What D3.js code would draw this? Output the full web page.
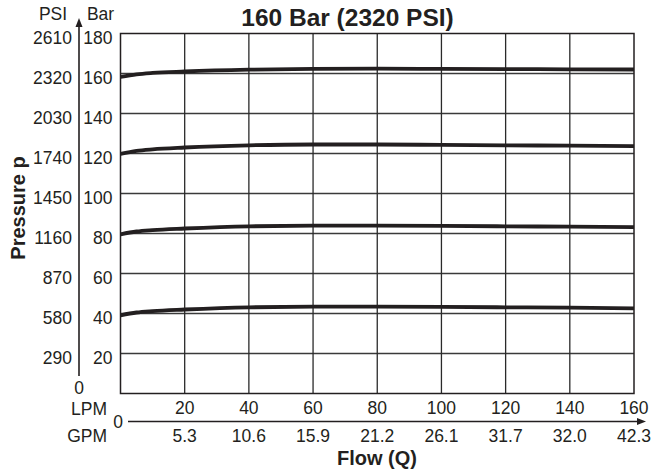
<!DOCTYPE html>
<html><head><meta charset="utf-8">
<script src="https://cdn.jsdelivr.net/npm/d3@7"></script>
<style>
html,body{margin:0;padding:0;background:#fff;}
svg{display:block;font-family:"Liberation Sans",Arial,Helvetica,sans-serif;}
</style></head>
<body><svg id="chart" width="654" height="472"></svg>
<script>
// ---- data ----
const flowLPM = [0, 5, 10, 20, 40, 60, 80, 100, 120, 140, 160];
const curve160 = [158.3, 159.6, 160.3, 161.0, 161.9, 162.3, 162.4, 162.3, 162.2, 162.1, 162.0];
const curve120 = [119.8, 121.3, 122.1, 123.0, 124.1, 124.5, 124.5, 124.3, 124.1, 123.9, 123.7];
const curve80  = [79.6, 81.0, 81.7, 82.5, 83.6, 83.9, 83.9, 83.8, 83.6, 83.4, 83.2];
const curve40  = [39.1, 40.5, 41.2, 42.0, 43.1, 43.4, 43.4, 43.3, 43.1, 42.9, 42.6];
const barTicks = [0, 20, 40, 60, 80, 100, 120, 140, 160, 180];
const psiLabels = ["0", "290", "580", "870", "1160", "1450", "1740", "2030", "2320", "2610"];
const lpmTicks = [20, 40, 60, 80, 100, 120, 140, 160];
const gpmLabels = ["5.3", "10.6", "15.9", "21.2", "26.1", "31.7", "32.0", "42.3"];
const title = "160 Bar (2320 PSI)";

const svg = d3.select("#chart");
const x = d3.scaleLinear().domain([0, 160]).range([120.5, 634]);
const y = d3.scaleLinear().domain([0, 180]).range([393.5, 33.5]);
const ink = "#231f20";

// gridlines
const g = svg.append("g");
g.selectAll(".hg").data(barTicks.filter(d => d > 0 && d < 180)).enter().append("line")
  .attr("x1", x(0)).attr("x2", x(160)).attr("y1", d => y(d)).attr("y2", d => y(d))
  .attr("stroke", "#3a3a3a").attr("stroke-width", 1.3);
g.selectAll(".vg").data(lpmTicks.filter(d => d < 160)).enter().append("line")
  .attr("x1", d => x(d)).attr("x2", d => x(d)).attr("y1", y(0)).attr("y2", y(180))
  .attr("stroke", "#2a2a2a").attr("stroke-width", 1.3);
// frame
svg.append("rect").attr("x", x(0)).attr("y", y(180)).attr("width", x(160) - x(0)).attr("height", y(0) - y(180))
  .attr("fill", "none").attr("stroke", ink).attr("stroke-width", 1.5);

// curves
const line = d3.line().x((d, i) => x(flowLPM[i])).y(d => y(d)).curve(d3.curveMonotoneX);
[curve160, curve120, curve80, curve40].forEach(c => {
  svg.append("path").attr("d", line(c)).attr("fill", "none")
    .attr("stroke", ink).attr("stroke-width", 3.8);
});

// y axis arrow
svg.append("line").attr("x1", 79).attr("x2", 79).attr("y1", 376).attr("y2", 24)
  .attr("stroke", ink).attr("stroke-width", 1.6);
svg.append("path").attr("d", "M79,18 L75.5,27 L82.5,27 Z").attr("fill", ink);
// x axis arrow
svg.append("line").attr("x1", 128).attr("x2", 638).attr("y1", 421.5).attr("y2", 421.5)
  .attr("stroke", ink).attr("stroke-width", 1.6);
svg.append("path").attr("d", "M646,421.5 L637,418 L637,425 Z").attr("fill", ink);

const fs = 17.5;
// y tick labels
svg.selectAll(".bar").data(barTicks.filter(d => d > 0)).enter().append("text")
  .attr("x", 112.5).attr("y", d => y(d) + 10).attr("text-anchor", "end")
  .attr("font-size", fs).attr("fill", ink).text(d => d);
svg.selectAll(".psi").data(barTicks.filter(d => d > 0)).enter().append("text")
  .attr("x", 72).attr("y", d => y(d) + 10).attr("text-anchor", "end")
  .attr("font-size", fs).attr("fill", ink).text((d, i) => psiLabels[i + 1]);
svg.append("text").attr("x", 79).attr("y", 394).attr("text-anchor", "middle")
  .attr("font-size", fs).attr("fill", ink).text(psiLabels[0]);
svg.append("text").attr("x", 53).attr("y", 20).attr("text-anchor", "middle")
  .attr("font-size", fs).attr("fill", ink).text("PSI");
svg.append("text").attr("x", 100.5).attr("y", 20).attr("text-anchor", "middle")
  .attr("font-size", fs).attr("fill", ink).text("Bar");

// x tick labels
svg.selectAll(".lpm").data(lpmTicks).enter().append("text")
  .attr("x", d => x(d)).attr("y", 414).attr("text-anchor", "middle")
  .attr("font-size", fs).attr("fill", ink).text(d => d);
svg.selectAll(".gpm").data(lpmTicks).enter().append("text")
  .attr("x", d => x(d)).attr("y", 442).attr("text-anchor", "middle")
  .attr("font-size", fs).attr("fill", ink).text((d, i) => gpmLabels[i]);
svg.append("text").attr("x", 107).attr("y", 415).attr("text-anchor", "end")
  .attr("font-size", fs).attr("fill", ink).text("LPM");
svg.append("text").attr("x", 107).attr("y", 442).attr("text-anchor", "end")
  .attr("font-size", fs).attr("fill", ink).text("GPM");
svg.append("text").attr("x", 118).attr("y", 428).attr("text-anchor", "middle")
  .attr("font-size", fs).attr("fill", ink).text("0");

// titles
svg.append("text").attr("x", 347.5).attr("y", 25.5).attr("text-anchor", "middle")
  .attr("font-size", 24.5).attr("font-weight", "bold").attr("fill", ink).text(title);
svg.append("text").attr("x", 377).attr("y", 465).attr("text-anchor", "middle")
  .attr("font-size", 20).attr("font-weight", "bold").attr("fill", ink).text("Flow (Q)");
svg.append("text").attr("transform", "translate(25,208) rotate(-90)").attr("text-anchor", "middle")
  .attr("font-size", 20).attr("font-weight", "bold").attr("fill", ink).text("Pressure p");
</script></body></html>
